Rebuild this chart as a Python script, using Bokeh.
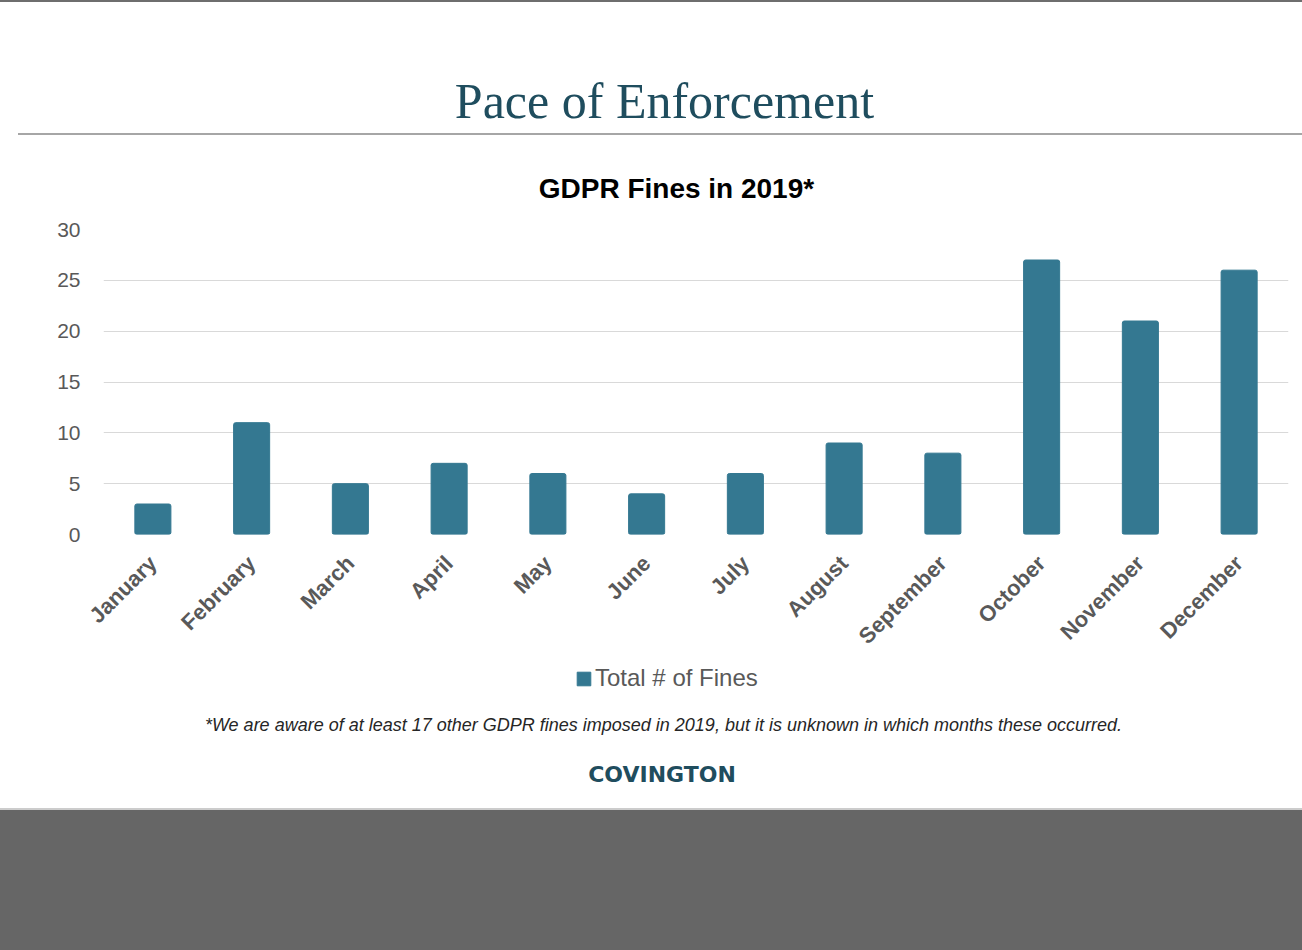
import math
from bokeh.plotting import figure
from bokeh.layouts import column
from bokeh.models import (Range1d, Label, Legend, LegendItem, Div,
                          ColumnDataSource, FixedTicker)
from bokeh.embed import file_html
from bokeh.resources import INLINE

# ---- data ----
months = ["January", "February", "March", "April", "May", "June",
          "July", "August", "September", "October", "November", "December"]
fines = [3, 11, 5, 7, 6, 4, 6, 9, 8, 27, 21, 26]
y_ticks = [0, 5, 10, 15, 20, 25, 30]

page_title = "Pace of Enforcement"
chart_title = "GDPR Fines in 2019*"
series_name = "Total # of Fines"
footnote = ("*We are aware of at least 17 other GDPR fines imposed in 2019, "
            "but it is unknown in which months these occurred.")
brand = "COVINGTON"

W = 1302
BL, BR = 103, 14
TEAL = "#347891"
DARK_TEAL = "#1f4d5e"
GRAY_TXT = "#595959"


def blank(fig):
    fig.axis.visible = False
    fig.grid.visible = False
    fig.outline_line_color = None


def text_panel(height, x_range=None):
    fig = figure(width=W, height=height,
                 x_range=x_range if x_range is not None else Range1d(0, 1),
                 y_range=Range1d(0, height),
                 output_backend="svg", toolbar_location=None,
                 min_border_left=BL, min_border_right=BR, min_border_top=0, min_border_bottom=0)
    blank(fig)
    return fig


# ---- top border line ----
top_line = Div(text="", width=W, height=2, margin=0,
               styles={"background-color": "#6e6e6e"})

# ---- header ----
h = text_panel(131)
h.add_layout(Label(x=0.4734, y=33, text=page_title, text_align="center",
                   text_baseline="alphabetic", text_font="Liberation Serif",
                   text_font_size="50px", text_color=DARK_TEAL))

# ---- rule under header ----
rule = Div(text="", width=W - 18, height=2, margin=(0, 0, 0, 18),
           styles={"background-color": "#a6a6a6"})

# ---- chart title ----
t = text_panel(80)
t.add_layout(Label(x=0.4835, y=27, text=chart_title, text_align="center",
                   text_baseline="middle", text_font="Liberation Sans",
                   text_font_style="bold", text_font_size="28px", text_color="#000000"))

# ---- main chart ----
src = ColumnDataSource(dict(month=months, fines=fines))
p = figure(width=W, height=445, x_range=months, y_range=Range1d(0, 30),
           output_backend="svg", toolbar_location=None,
           min_border_left=BL, min_border_right=BR, min_border_top=14, min_border_bottom=123)
p.outline_line_color = None
p.xgrid.grid_line_color = None
p.ygrid.grid_line_color = "#d9d9d9"
p.ygrid.grid_line_width = 1
p.yaxis.ticker = FixedTicker(ticks=y_ticks)
p.yaxis.axis_line_color = None
p.yaxis.major_tick_line_color = None
p.yaxis.minor_tick_line_color = None
p.yaxis.major_label_text_font = "Liberation Sans"
p.yaxis.major_label_text_font_size = "21px"
p.yaxis.major_label_text_color = GRAY_TXT
p.yaxis.major_label_standoff = 17

p.xaxis.axis_line_color = None
p.xaxis.major_tick_line_color = None
p.xaxis.major_label_orientation = math.pi / 4
p.xaxis.major_label_text_font = "Liberation Sans"
p.xaxis.major_label_text_font_style = "bold"
p.xaxis.major_label_text_font_size = "22px"
p.xaxis.major_label_text_color = GRAY_TXT
p.xaxis.major_label_standoff = 19

p.vbar(x="month", top="fines", width=0.365, source=src,
       fill_color=TEAL, line_color=TEAL, border_radius=2)

# ---- caption area: legend, footnote, brand ----
c = text_panel(148, x_range=p.x_range)
# hidden proxy of the same series, only used to draw the legend key
key = c.vbar(x="month", top="fines", width=0.365, source=src,
             fill_color=TEAL, line_color=TEAL, border_radius=2, visible=False)
c.add_layout(Label(x=5.671, y=84, text=footnote, text_align="center",
                   text_baseline="middle", text_font="Liberation Sans",
                   text_font_style="italic", text_font_size="18px", text_color="#262626"))
c.add_layout(Label(x=5.656, y=34, text=brand, text_align="center",
                   text_baseline="middle", text_font="DejaVu Sans",
                   text_font_style="bold", text_font_size="22px", text_color=DARK_TEAL))
legend = Legend(items=[LegendItem(label=series_name, renderers=[key])],
                location=(472, 116), orientation="horizontal",
                border_line_color=None, background_fill_alpha=0,
                padding=0, margin=0, glyph_width=17, glyph_height=17,
                label_standoff=3, label_text_font="Liberation Sans",
                label_text_font_size="24px", label_text_color=GRAY_TXT,
                inactive_fill_alpha=0)
c.add_layout(legend, "center")

# ---- footer band ----
footer = Div(text="", width=W, height=142, margin=0,
             styles={"background-color": "#666666", "border-top": "2px solid #cccccc",
                     "box-sizing": "border-box"})

layout = column(top_line, h, rule, t, p, c, footer, spacing=0)
open("out.html", "w").write(file_html(layout, INLINE))
